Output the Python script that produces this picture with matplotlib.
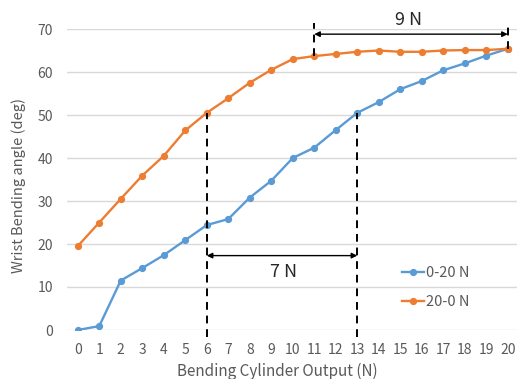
import matplotlib
matplotlib.use("Agg")
import matplotlib.pyplot as plt
import numpy as np

plt.rcParams['font.family'] = ['Noto Sans CJK JP', 'DejaVu Sans']

# bending cylinder output (N)
force = list(range(0, 21))
# wrist bending angle (deg)
up_0_20 = [0, 0.9, 11.5, 14.4, 17.4, 20.9, 24.4, 25.8, 30.8, 34.7, 40.0,
           42.4, 46.5, 50.5, 53.0, 56.0, 57.9, 60.4, 62.0, 63.8, 65.4]
down_20_0 = [19.5, 25.0, 30.5, 35.9, 40.5, 46.4, 50.5, 53.9, 57.5, 60.5, 63.0,
             63.7, 64.2, 64.7, 65.0, 64.7, 64.7, 65.0, 65.1, 65.1, 65.4]
labels = ['0-20 N', '20-0 N']

gray = '#595959'
blue = '#5B9BD5'
orange = '#ED7D31'

fig = plt.figure(figsize=(5.17, 3.79), dpi=100)
ax = fig.add_axes([67/517, 49/379, 450/517, 301/379])

ax.plot(force, up_0_20, color=blue, lw=1.7, marker='o', ms=4.2, label=labels[0])
ax.plot(force, down_20_0, color=orange, lw=1.7, marker='o', ms=4.2, label=labels[1])

ax.set_xlim(-0.5, 20.43)
ax.set_ylim(0, 70)
ax.set_xticks(force)
ax.set_yticks(range(0, 71, 10))
ax.grid(axis='y', color='#d9d9d9', lw=1)
ax.set_axisbelow(True)
for s in ax.spines.values():
    s.set_visible(False)
ax.tick_params(length=0, colors=gray, labelsize=10)
ax.tick_params(axis='y', pad=10)
ax.tick_params(axis='x', pad=9)
ax.set_xlabel('Bending Cylinder Output (N)', color=gray, fontsize=11)
ax.set_ylabel('Wrist Bending angle (deg)', color=gray, fontsize=10.5)
ax.xaxis.set_label_coords(0.468, -0.108)
ax.yaxis.set_label_coords(-0.092, 0.48)

# 7 N span
dash = dict(color='black', lw=1.4, ls=(0, (4, 3)), clip_on=False)
ax.plot([6, 6], [-1.6, down_20_0[6]], **dash)
ax.plot([13, 13], [-1.6, up_0_20[13]], **dash)
ax.annotate('', xy=(6, 17.3), xytext=(13, 17.3),
            arrowprops=dict(arrowstyle='<|-|>', color='black', lw=1,
                            mutation_scale=8, shrinkA=0, shrinkB=0))
ax.text(9.55, 13.6, '7 N', fontsize=13, ha='center', va='center', color='#262626')

# 9 N span
ax.plot([11, 11], [down_20_0[11], 71.3], **dash)
ax.plot([20, 20], [down_20_0[20], 71.3], **dash)
ax.annotate('', xy=(11, 68.8), xytext=(20, 68.8), annotation_clip=False,
            arrowprops=dict(arrowstyle='<|-|>', color='black', lw=1,
                            mutation_scale=8, shrinkA=0, shrinkB=0))
ax.text(15.4, 72.0, '9 N', fontsize=13, ha='center', va='center', color='#262626')

leg = ax.legend(loc='upper left', bbox_to_anchor=(0.745, 0.213), frameon=False,
                handlelength=1.5, handletextpad=0.1, labelspacing=1.05,
                borderpad=0, borderaxespad=0, fontsize=10.5)
for t in leg.get_texts():
    t.set_color(gray)

fig.savefig('out.png', dpi=100)
